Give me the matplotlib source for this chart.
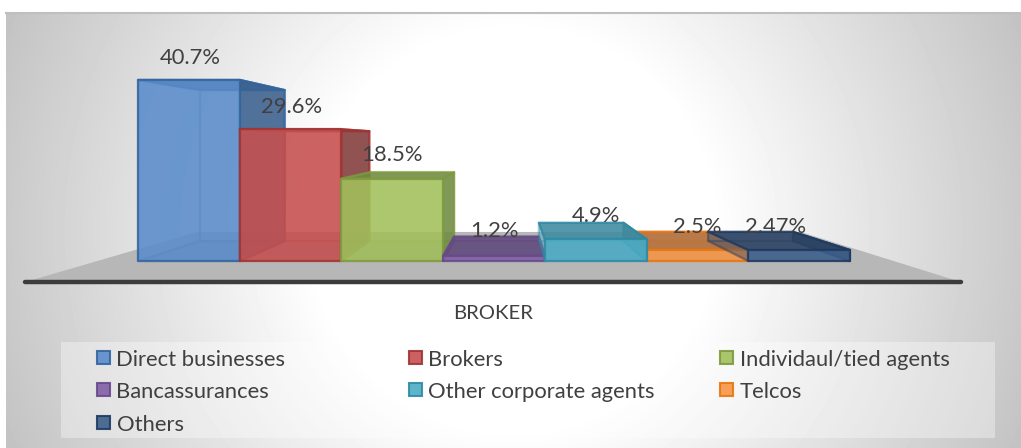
"""
Perspective column chart of business by channel, drawn with plain polygons
"""
import matplotlib
matplotlib.use("Agg")
import matplotlib.pyplot as plt
import numpy as np
from matplotlib.patches import Polygon, Rectangle
from matplotlib.transforms import Affine2D

plt.rcParams["font.family"] = ["Lato", "DejaVu Sans"]

# The chart data
CATEGORY = "BROKER"
channels = ["Direct businesses", "Brokers", "Individaul/tied agents",
            "Bancassurances", "Other corporate agents", "Telcos", "Others"]
shares = [40.7, 29.6, 18.5, 1.2, 4.9, 2.5, 2.47]
share_labels = ["40.7%", "29.6%", "18.5%", "1.2%", "4.9%", "2.5%", "2.47%"]

# The colours of each series
face_colors = ["#5b8ccb", "#c6504f", "#a2c05c", "#8260a6",
               "#4bacc6", "#f79646", "#3d5f8c"]
edge_colors = ["#33659f", "#a03434", "#7e9a3e", "#684a8c",
               "#2f8aa3", "#e8760f", "#1f3a5f"]
side_colors = ["#3b5f8c", "#803c3c", "#6f8a42", "#60497c",
               "#3f8a9f", "#b8703a", "#2b4263"]

# The layout in pixels of the picture
WIDTH, HEIGHT = 1021, 448
BAR_LEFT, BAR_WIDTH = 138.0, 101.7
BASE_Y, PX_PER_UNIT = 261.0, 4.45
VANISH_X_PX, VANISH_Y_PX = 509.0, 141.0
BACK_SCALE = 0.833

# The vanishing point in data units
VX = (VANISH_X_PX - BAR_LEFT) / BAR_WIDTH
VY = (BASE_Y - VANISH_Y_PX) / PX_PER_UNIT

fig = plt.figure(figsize=(WIDTH / 100, HEIGHT / 100), dpi=100)
ax = fig.add_axes([0, 0, 1, 1])

# Pixel positions counted from the top left, for the furniture of the chart
to_px = Affine2D().scale(1, -1).translate(0, HEIGHT)


def project(x, y, k):
    """Move a point of the front plane to depth factor k"""
    return VX + (x - VX)*k, VY + (y - VY)*k


def face(points, color, edge, alpha, zorder):
    """Add one face of a bar"""
    ax.add_patch(Polygon(points, closed=True, facecolor=color, edgecolor=edge,
                         linewidth=1.6, alpha=alpha, zorder=zorder,
                         joinstyle="round"))


# The background with its radial shading
yy, xx = np.mgrid[12:HEIGHT, 6:WIDTH]
radius = np.hypot(xx - 513, yy - 230)
shade = 1 - 0.24*np.clip((radius - 200) / 355, 0, 1.1)
ax.imshow(shade, cmap="gray", vmin=0, vmax=1, aspect="auto", zorder=0,
          extent=(6, WIDTH, HEIGHT, 12), transform=to_px)
ax.set_xlim(-BAR_LEFT / BAR_WIDTH, (WIDTH - BAR_LEFT) / BAR_WIDTH)
ax.set_ylim((BASE_Y - HEIGHT) / PX_PER_UNIT, BASE_Y / PX_PER_UNIT)
ax.axis("off")
ax.plot([6, WIDTH], [12.5, 12.5], color="#bfbfbf", lw=1.5, transform=to_px,
        zorder=1)

# The floor
FLOOR_LEFT, FLOOR_RIGHT = -0.40, 7.43
FLOOR_FRONT, FLOOR_BACK = 1.175, 0.758
floor = [project(FLOOR_LEFT, 0, FLOOR_FRONT), project(FLOOR_RIGHT, 0, FLOOR_FRONT),
         project(FLOOR_RIGHT, 0, FLOOR_BACK), project(FLOOR_LEFT, 0, FLOOR_BACK)]
ax.add_patch(Polygon(floor, closed=True, facecolor="#b7b7b7", edgecolor="none",
                     zorder=2))
lip_left, lip_y = project(FLOOR_LEFT, 0, FLOOR_FRONT)
lip_right, _ = project(FLOOR_RIGHT, 0, FLOOR_FRONT)
ax.plot([lip_left, lip_right], [lip_y, lip_y], color="#3c3c3c", lw=3.2,
        solid_capstyle="round", zorder=3)

# The bars; the teal one sits over the orange one, as in the original
draw_order = [0, 1, 2, 3, 5, 4, 6]
for rank, i in enumerate(draw_order):
    value = shares[i]
    z = 10 + rank*10
    x0, x1 = i, i + 1
    fbl, fbr = (x0, 0), (x1, 0)
    ftl, ftr = (x0, value), (x1, value)
    bbl, bbr = project(x0, 0, BACK_SCALE), project(x1, 0, BACK_SCALE)
    btl, btr = project(x0, value, BACK_SCALE), project(x1, value, BACK_SCALE)
    face([bbl, bbr, btr, btl], face_colors[i], edge_colors[i], 0.25, z)
    face([fbl, fbr, bbr, bbl], side_colors[i], edge_colors[i], 0.25, z + 1)
    face([fbl, bbl, btl, ftl], face_colors[i], edge_colors[i], 0.25, z + 2)
    face([fbr, bbr, btr, ftr], side_colors[i], edge_colors[i], 0.85, z + 3)
    face([ftl, ftr, btr, btl], side_colors[i], edge_colors[i], 0.85, z + 4)
    face([fbl, fbr, ftr, ftl], face_colors[i], edge_colors[i], 0.85, z + 5)

# The data labels, shifted in pixels from the middle of the bar top
label_shift_x = [1, 1, 0, 0, 0, 0, -23]
label_shift_y = [22, 22, 24, 25, 23, 23, 23]
for i, text in enumerate(share_labels):
    ax.annotate(text, (i + 0.5, shares[i]), xytext=(label_shift_x[i], label_shift_y[i]),
                textcoords="offset pixels", ha="center", va="center",
                fontsize=15.8, color="#404040", zorder=200)

# The category name
ax.text(493, 313, CATEGORY, transform=to_px, ha="center", va="center",
        fontsize=14.6, color="#404040", zorder=200)

# The legend, laid out like the original in rows of three
ax.add_patch(Rectangle((61, 342), 934, 96, transform=to_px, facecolor="white",
                       edgecolor="none", alpha=0.35, zorder=150))
legend_columns = [97, 409, 720]
legend_rows = [358, 390, 423]
for i, name in enumerate(channels):
    lx = legend_columns[i % 3]
    ly = legend_rows[i // 3]
    ax.add_patch(Rectangle((lx, ly - 7), 13, 13, transform=to_px,
                           facecolor=face_colors[i], edgecolor=edge_colors[i],
                           linewidth=1.5, alpha=0.9, zorder=160))
    ax.text(lx + 19.5, ly + 1.5, name, transform=to_px, ha="left", va="center",
            fontsize=15.8, color="#404040", zorder=160)

fig.savefig("out.png", dpi=100)
